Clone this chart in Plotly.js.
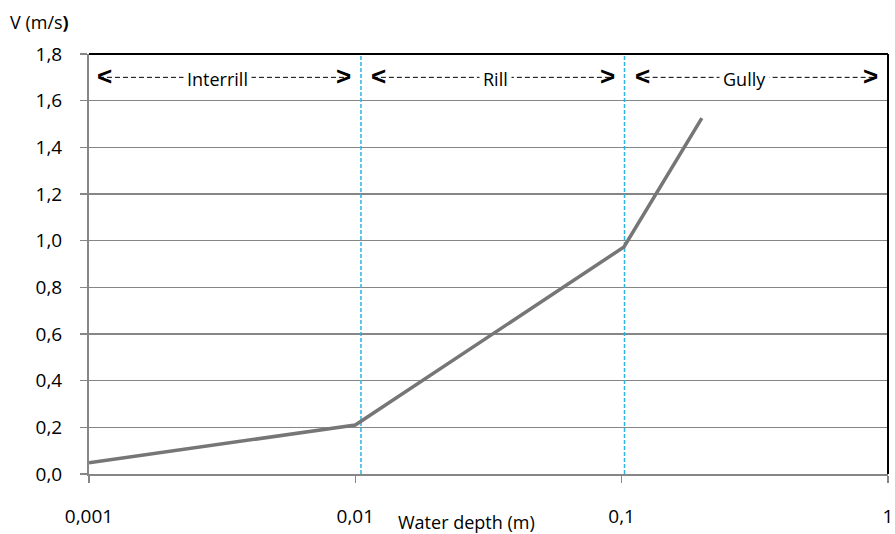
<!DOCTYPE html>
<html>
<head>
<meta charset="utf-8">
<script src="https://cdn.plot.ly/plotly-3.0.1.min.js"></script>
<style>html,body{margin:0;padding:0;background:#fff;}#chart{width:895px;height:534px;}</style>
</head>
<body>
<div id="chart"></div>
<script>
// Data
const depth = [0.001, 0.01, 0.102, 0.2];
const velocity = [0.048, 0.21, 0.973, 1.525];

// Regime boundaries (cyan dashed verticals)
const boundaries = [0.0105, 0.1025];

// Regime labels and arrow extents
const regimeNames = ["Interrill", "Rill", "Gully"];
const regimeLabelX = [0.00305, 0.0335, 0.29];
const regimeStart = [0.00109, 0.01164, 0.1138];
const regimeEnd = [0.00946, 0.0925, 0.898];
const regimeY = 1.70;

const xTickVals = [0.001, 0.01, 0.1, 1];
const xTickText = ["0,001", "0,01", "0,1", "1"];

const FONT = "Open Sans, Liberation Sans, sans-serif";
const traces = [];

boundaries.forEach(b => {
  traces.push({x: [b, b], y: [0, 1.8], mode: "lines", hoverinfo: "skip",
    line: {color: "#2fb2e3", width: 1.5, dash: "4px,2px"}, showlegend: false});
});

for (let i = 0; i < regimeNames.length; i++) {
  traces.push({x: [regimeStart[i], regimeEnd[i]], y: [regimeY, regimeY], mode: "lines",
    hoverinfo: "skip", line: {color: "#000", width: 1, dash: "5px,3px"}, showlegend: false});
}

traces.push({x: depth, y: velocity, mode: "lines", line: {color: "#767676", width: 3.5},
  showlegend: false});

const annotations = [];
for (let i = 0; i < regimeNames.length; i++) {
  annotations.push({x: Math.log10(regimeLabelX[i]), y: regimeY, xref: "x", yref: "y",
    text: regimeNames[i], showarrow: false, bgcolor: "#fff", borderpad: 3, yshift: -2,
    font: {family: FONT, size: 18, color: "#000"}});
  annotations.push({x: Math.log10(regimeStart[i]), y: regimeY, xref: "x", yref: "y",
    text: "<b><</b>", showarrow: false, xanchor: "left", xshift: -4, yshift: 1,
    font: {family: "Liberation Sans", size: 26, color: "#000"}});
  annotations.push({x: Math.log10(regimeEnd[i]), y: regimeY, xref: "x", yref: "y",
    text: "<b>></b>", showarrow: false, xanchor: "right", xshift: 4, yshift: 1,
    font: {family: "Liberation Sans", size: 26, color: "#000"}});
}
annotations.push({x: -0.101, y: 1.076, xref: "paper", yref: "paper", xanchor: "left",
  yanchor: "middle", showarrow: false, text: "V (m/s<b>)</b>",
  font: {family: FONT, size: 18, color: "#000"}});
annotations.push({x: 0.473, y: -0.114, xref: "paper", yref: "paper", xanchor: "center",
  yanchor: "middle", showarrow: false, text: "Water depth (m)",
  font: {family: FONT, size: 18, color: "#000"}});

const layout = {
  width: 895, height: 534,
  margin: {l: 89, r: 7, t: 54, b: 60},
  paper_bgcolor: "#fff", plot_bgcolor: "#fff",
  separators: ",.",
  font: {family: FONT, size: 19, color: "#000"},
  xaxis: {type: "log", range: [-3, 0], tickvals: xTickVals, ticktext: xTickText,
    showgrid: false, zeroline: false, showline: true, linecolor: "#868686", linewidth: 2,
    ticks: "outside", ticklen: 7, tickcolor: "#868686", tickwidth: 1.5,
    ticklabelstandoff: 17, fixedrange: true},
  yaxis: {range: [0, 1.8], dtick: 0.2, tick0: 0, tickformat: ".1f",
    showgrid: true, gridcolor: "#868686", gridwidth: 1.5, zeroline: false,
    showline: true, linecolor: "#868686", linewidth: 2,
    ticks: "outside", ticklen: 7, tickcolor: "#868686", tickwidth: 1.5,
    ticklabelstandoff: 14, fixedrange: true},
  shapes: [
    {type: "line", xref: "paper", yref: "paper", x0: 0, x1: 1, y0: 1, y1: 1,
      line: {color: "#000", width: 2}},
    {type: "line", xref: "paper", yref: "paper", x0: 1, x1: 1, y0: 0, y1: 1,
      line: {color: "#000", width: 2}}
  ],
  annotations: annotations
};

Plotly.newPlot("chart", traces, layout, {displayModeBar: false, staticPlot: true});
</script>
</body>
</html>
